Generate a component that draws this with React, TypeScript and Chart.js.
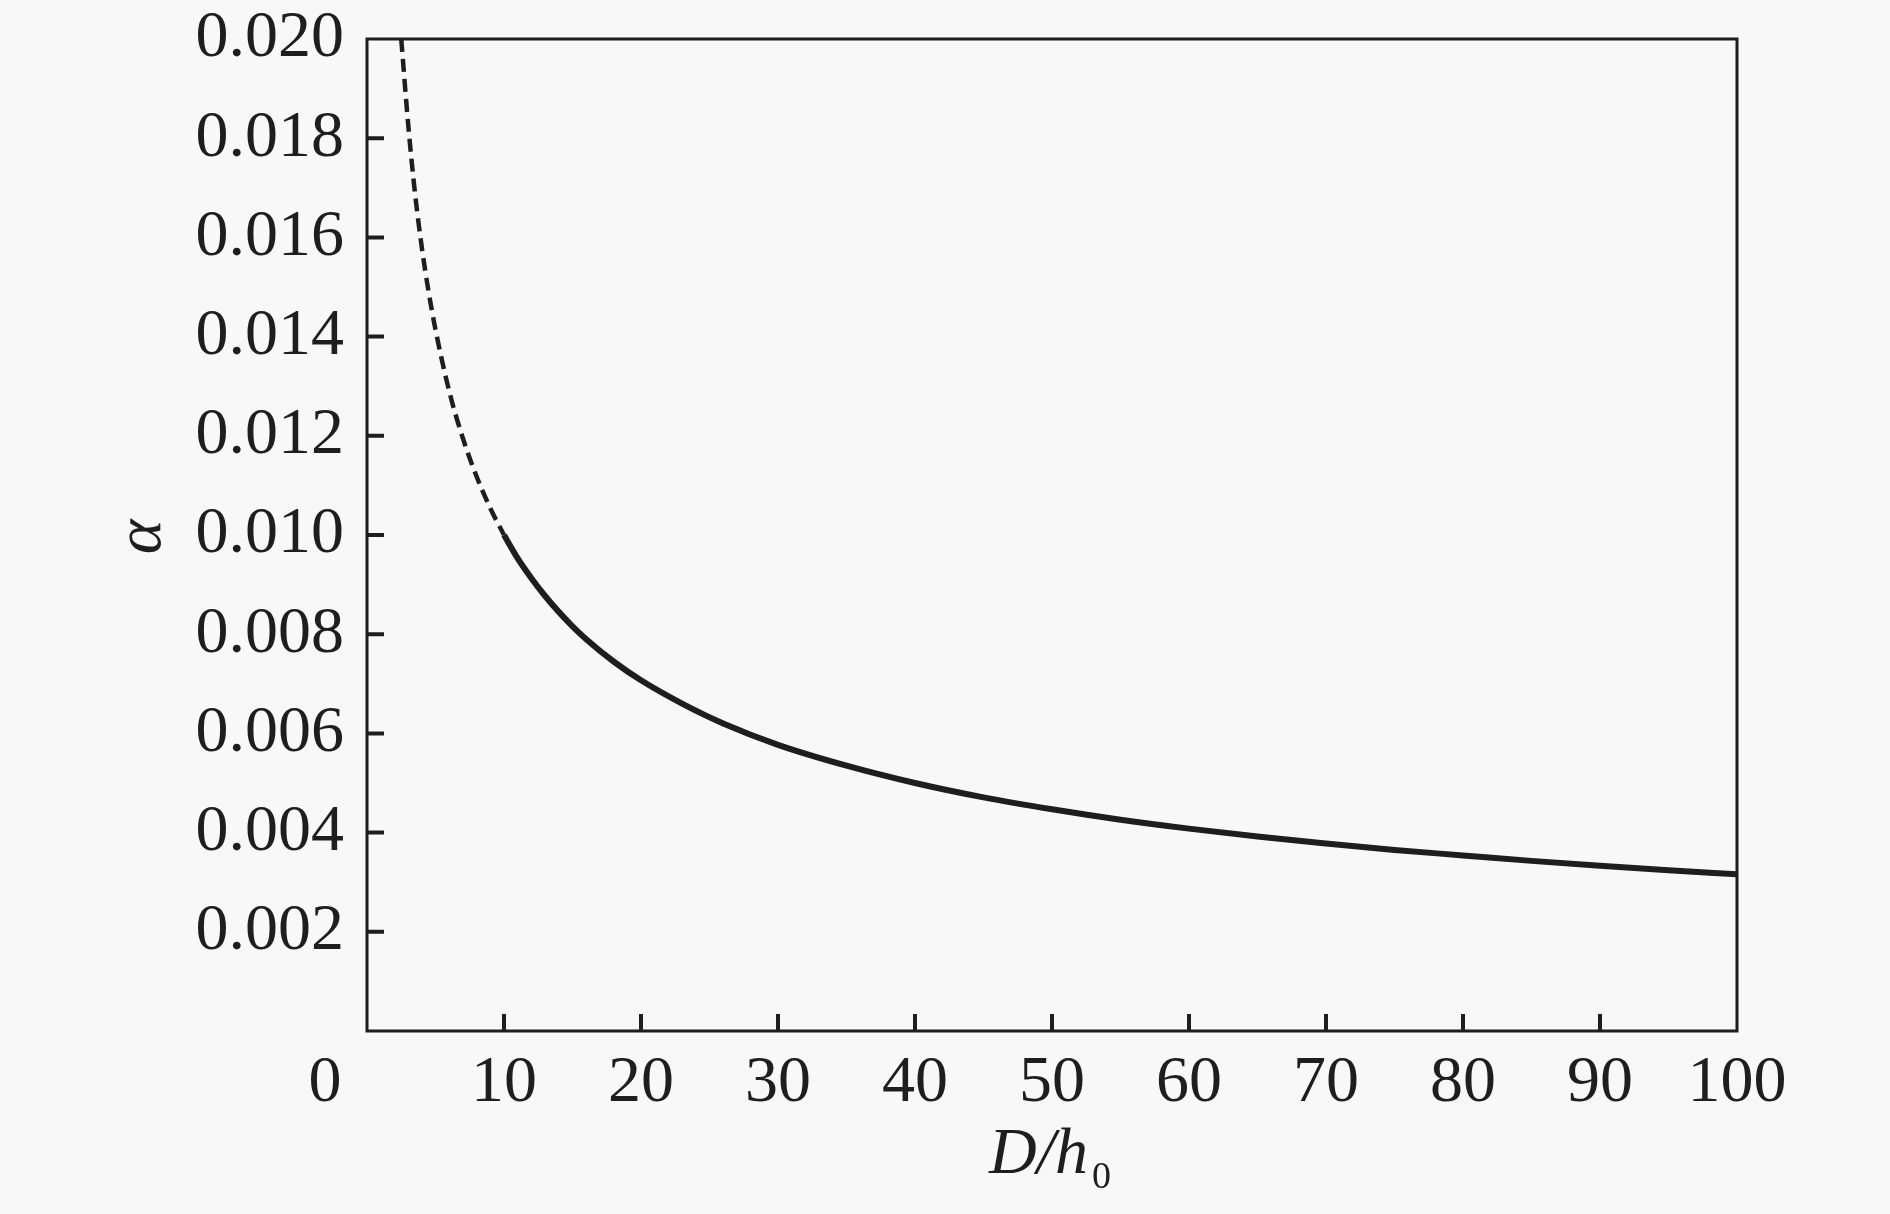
import React, { useEffect, useRef } from "react";
import { Chart, registerables } from "chart.js";

Chart.register(...registerables);

// Dashed part of the curve (D/h0 < 10)
const dashedX = [2.5, 3, 3.5, 4, 4.5, 5, 6, 7, 8, 9, 10];
const dashedY = [0.02, 0.0183, 0.0169, 0.0158, 0.0149, 0.01414, 0.0129, 0.01195, 0.01118, 0.01054, 0.01];

// Solid part of the curve (D/h0 >= 10)
const solidX = [10, 11, 12, 13, 14, 15, 16, 18, 20, 23, 26, 30, 35, 40, 45, 50, 55, 60, 65, 70, 75, 80, 85, 90, 95, 100];
const solidY = [
  0.01, 0.00953, 0.00913, 0.00877, 0.00845, 0.00816, 0.0079, 0.00745, 0.00707, 0.0066, 0.0062, 0.00577, 0.00535,
  0.005, 0.00471, 0.00447, 0.00426, 0.00408, 0.00392, 0.00378, 0.00365, 0.00354, 0.00343, 0.00333, 0.00324, 0.00316,
];

const xTicks = [0, 10, 20, 30, 40, 50, 60, 70, 80, 90, 100];
const yTicks = [0.002, 0.004, 0.006, 0.008, 0.01, 0.012, 0.014, 0.016, 0.018, 0.02];

const FONT = "'Liberation Serif', 'Times New Roman', serif";
const INK = "#1e1e1e";
const BG = "#f8f8f8";

export default function App() {
  const ref = useRef<HTMLCanvasElement | null>(null);

  useEffect(() => {
    document.body.style.margin = "0";
    document.body.style.background = BG;
    const canvas = ref.current!;

    const framePlugin = {
      id: "frame",
      beforeDraw(chart: any) {
        const ctx = chart.ctx;
        ctx.save();
        ctx.fillStyle = BG;
        ctx.fillRect(0, 0, chart.width, chart.height);
        ctx.restore();
      },
      afterDraw(chart: any) {
        const ctx = chart.ctx;
        const a = chart.chartArea;
        const xs = chart.scales.x;
        const ys = chart.scales.y;
        ctx.save();
        ctx.strokeStyle = INK;
        ctx.lineWidth = 3;
        ctx.strokeRect(a.left, a.top, a.right - a.left, a.bottom - a.top);
        ctx.lineWidth = 4;
        ctx.beginPath();
        for (const v of xTicks) {
          if (v === 0 || v === 100) continue;
          const px = xs.getPixelForValue(v);
          ctx.moveTo(px, a.bottom);
          ctx.lineTo(px, a.bottom - 17);
        }
        for (const v of yTicks) {
          if (v >= 0.02) continue;
          const py = ys.getPixelForValue(v);
          ctx.moveTo(a.left, py);
          ctx.lineTo(a.left + 17, py);
        }
        ctx.stroke();

        // origin label "0"
        ctx.fillStyle = INK;
        ctx.font = `66px ${FONT}`;
        ctx.textAlign = "center";
        ctx.textBaseline = "middle";
        ctx.fillText("0", a.left - 42, a.bottom + 13 + (66 * 1.2) / 2);

        // y title
        ctx.save();
        ctx.translate(160, (a.top + a.bottom) / 2 + 2);
        ctx.rotate(-Math.PI / 2);
        ctx.font = `italic 66px ${FONT}`;
        ctx.textAlign = "center";
        ctx.textBaseline = "alphabetic";
        ctx.fillText("α", 0, 0);
        ctx.restore();

        // x title D/h0
        ctx.font = `italic 66px ${FONT}`;
        ctx.textAlign = "left";
        ctx.textBaseline = "alphabetic";
        const main = "D/h";
        const x0 = 989;
        ctx.fillText(main, x0, 1173);
        const w = ctx.measureText(main).width;
        ctx.font = `38px ${FONT}`;
        ctx.fillText("0", x0 + w + 4, 1188);
        ctx.restore();
      },
    };

    const chart = new Chart(canvas, {
      type: "line",
      data: {
        datasets: [
          {
            data: dashedX.map((x, i) => ({ x, y: dashedY[i] })),
            borderColor: INK,
            borderWidth: 4.5,
            borderDash: [13, 7],
            pointRadius: 0,
            cubicInterpolationMode: "monotone",
            fill: false,
          },
          {
            data: solidX.map((x, i) => ({ x, y: solidY[i] })),
            borderColor: INK,
            borderWidth: 6,
            pointRadius: 0,
            cubicInterpolationMode: "monotone",
            fill: false,
          },
        ],
      },
      options: {
        animation: false,
        responsive: false,
        events: [],
        layout: { padding: { left: 0, top: 39, right: 153, bottom: 0 } },
        plugins: { legend: { display: false }, tooltip: { enabled: false }, title: { display: false } },
        scales: {
          x: {
            type: "linear",
            min: 0,
            max: 100,
            afterBuildTicks: (s: any) => {
              s.ticks = xTicks.map((v) => ({ value: v }));
            },
            afterFit: (s: any) => {
              s.height = 183;
              s.paddingLeft = 0;
              s.paddingRight = 0;
            },
            grid: { display: false, drawTicks: false },
            border: { display: false },
            ticks: {
              padding: 13,
              color: INK,
              font: { family: FONT, size: 66 },
              maxRotation: 0,
              autoSkip: false,
              callback: (v: any) => (v === 0 ? "" : String(v)),
            },
          },
          y: {
            type: "linear",
            min: 0,
            max: 0.02,
            afterBuildTicks: (s: any) => {
              s.ticks = yTicks.map((v) => ({ value: v }));
            },
            afterFit: (s: any) => {
              s.width = 367;
              s.paddingTop = 0;
              s.paddingBottom = 0;
            },
            grid: { display: false, drawTicks: false },
            border: { display: false },
            ticks: {
              padding: 23,
              color: INK,
              font: { family: FONT, size: 66 },
              autoSkip: false,
              callback: (v: any) => Number(v).toFixed(3),
            },
          },
        },
      },
      plugins: [framePlugin],
    } as any);

    return () => chart.destroy();
  }, []);

  return <canvas ref={ref} width={1890} height={1214} style={{ display: "block" }} />;
}
